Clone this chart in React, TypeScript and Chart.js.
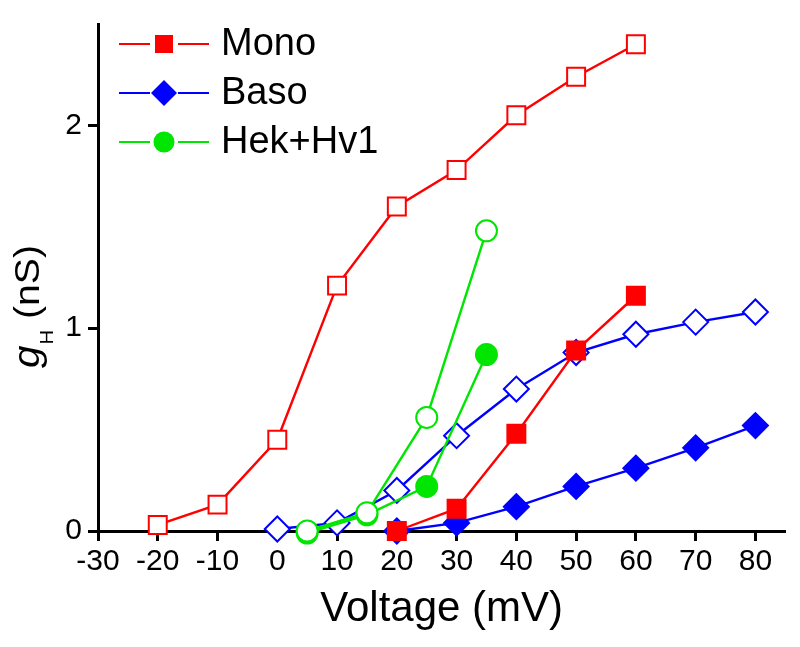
import React, { useEffect, useRef } from "react";
import { Chart, registerables } from "chart.js";

Chart.register(...registerables);

const FONT = "'Liberation Sans', Arial, sans-serif";
const NARROW = "'Liberation Sans Narrow', 'Arial Narrow', 'Liberation Sans', sans-serif";

const monoOpenX = [-20, -10, 0, 10, 20, 30, 40, 50, 60];
const monoOpenY = [0.03, 0.13, 0.45, 1.21, 1.6, 1.78, 2.05, 2.24, 2.4];
const monoFilledX = [20, 30, 40, 50, 60];
const monoFilledY = [0.0, 0.11, 0.48, 0.89, 1.16];
const basoOpenX = [0, 10, 20, 30, 40, 50, 60, 70, 80];
const basoOpenY = [0.01, 0.04, 0.2, 0.47, 0.7, 0.88, 0.97, 1.03, 1.08];
const basoFilledX = [20, 30, 40, 50, 60, 70, 80];
const basoFilledY = [0.0, 0.04, 0.12, 0.22, 0.31, 0.41, 0.52];
const hekOpenX = [5, 15, 25, 35];
const hekOpenY = [0.0, 0.09, 0.56, 1.48];
const hekFilledX = [5, 15, 25, 35];
const hekFilledY = [-0.01, 0.08, 0.22, 0.87];

const xTicks = [-30, -20, -10, 0, 10, 20, 30, 40, 50, 60, 70, 80];
const yTicks = [0, 1, 2];

const legendLabels = ["Mono", "Baso", "Hek+Hv1"];

const RED = "#ff0000";
const BLUE = "#0000ff";
const GREEN = "#00e600";

const pts = (xs: number[], ys: number[]) => xs.map((x, i) => ({ x, y: ys[i] }));

const legendPlugin = {
  id: "customLegend",
  afterDraw(chart: any) {
    const ctx = chart.ctx;
    const rows = [
      { label: legendLabels[0], color: RED, style: "rect", y: 44 },
      { label: legendLabels[1], color: BLUE, style: "diamond", y: 93 },
      { label: legendLabels[2], color: GREEN, style: "circle", y: 142 },
    ];
    ctx.save();
    for (const r of rows) {
      ctx.strokeStyle = r.color;
      ctx.lineWidth = 2.2;
      ctx.beginPath();
      ctx.moveTo(119, r.y);
      ctx.lineTo(150, r.y);
      ctx.moveTo(178, r.y);
      ctx.lineTo(209, r.y);
      ctx.stroke();
      ctx.fillStyle = r.color;
      const cx = 164;
      if (r.style === "rect") {
        ctx.fillRect(cx - 9, r.y - 9, 18, 18);
      } else if (r.style === "diamond") {
        ctx.beginPath();
        ctx.moveTo(cx, r.y - 13);
        ctx.lineTo(cx + 13, r.y);
        ctx.lineTo(cx, r.y + 13);
        ctx.lineTo(cx - 13, r.y);
        ctx.closePath();
        ctx.fill();
      } else {
        ctx.beginPath();
        ctx.arc(cx, r.y, 10.5, 0, Math.PI * 2);
        ctx.fill();
      }
      ctx.fillStyle = "#000";
      ctx.font = `38px ${FONT}`;
      ctx.textBaseline = "middle";
      ctx.textAlign = "left";
      ctx.fillText(r.label, 221, r.y + 1);
    }
    ctx.restore();
  },
};

const yTitlePlugin = {
  id: "yTitle",
  afterDraw(chart: any) {
    const ctx = chart.ctx;
    ctx.save();
    ctx.translate(39, 368);
    ctx.rotate(-Math.PI / 2);
    ctx.scale(1.12, 1);
    ctx.fillStyle = "#000";
    ctx.textBaseline = "alphabetic";
    ctx.textAlign = "left";
    let x = 0;
    ctx.font = `italic 36px ${FONT}`;
    ctx.fillText("g", x, 0);
    x += ctx.measureText("g").width + 1;
    ctx.font = `18px ${FONT}`;
    ctx.fillText("H", x, 14);
    x += ctx.measureText("H").width;
    ctx.font = `35px ${FONT}`;
    ctx.fillText(" (nS)", x, 0);
    ctx.restore();
  },
};

export default function App() {
  const ref = useRef<HTMLCanvasElement | null>(null);
  useEffect(() => {
    if (!ref.current) return;
    const common = { showLine: true, borderWidth: 2.4, clip: false as any, pointBorderWidth: 2 };
    const chart = new Chart(ref.current, {
      type: "scatter",
      data: {
        datasets: [
          {
            label: "Mono (open)", data: pts(monoOpenX, monoOpenY), ...common,
            borderColor: RED, backgroundColor: "#fff", pointBorderColor: RED, pointBackgroundColor: "#fff",
            pointStyle: "rect", pointRadius: 12.7,
          },
          {
            label: "Mono", data: pts(monoFilledX, monoFilledY), ...common,
            borderColor: RED, backgroundColor: RED, pointBorderColor: RED, pointBackgroundColor: RED,
            pointStyle: "rect", pointRadius: 12.7,
          },
          {
            label: "Hek+Hv1 (open)", data: pts(hekOpenX, hekOpenY), ...common,
            borderColor: GREEN, backgroundColor: "#fff", pointBorderColor: GREEN, pointBackgroundColor: "#fff",
            pointStyle: "circle", pointRadius: 10.5,
          },
          {
            label: "Hek+Hv1", data: pts(hekFilledX, hekFilledY), ...common,
            borderColor: GREEN, backgroundColor: GREEN, pointBorderColor: GREEN, pointBackgroundColor: GREEN,
            pointStyle: "circle", pointRadius: 10.5,
          },
          {
            label: "Baso (open)", data: pts(basoOpenX, basoOpenY), ...common,
            borderColor: BLUE, backgroundColor: "#fff", pointBorderColor: BLUE, pointBackgroundColor: "#fff",
            pointStyle: "rectRot", pointRadius: 12.5,
          },
          {
            label: "Baso", data: pts(basoFilledX, basoFilledY), ...common,
            borderColor: BLUE, backgroundColor: BLUE, pointBorderColor: BLUE, pointBackgroundColor: BLUE,
            pointStyle: "rectRot", pointRadius: 12.5,
          },
        ],
      },
      options: {
        responsive: false,
        animation: false,
        layout: { padding: { top: 18, right: 13, left: 0, bottom: 0 } },
        plugins: { legend: { display: false }, tooltip: { enabled: false } },
        scales: {
          x: {
            type: "linear",
            min: -30,
            max: 85,
            afterBuildTicks: (s: any) => { s.ticks = xTicks.map((v) => ({ value: v })); },
            afterFit: (s: any) => { s.height = 116; },
            grid: { display: true, drawOnChartArea: false, drawTicks: true, tickLength: 10, tickWidth: 3, tickColor: "#000" },
            border: { display: true, color: "#000", width: 3 },
            ticks: { font: { family: NARROW, size: 30 }, color: "#000", padding: 3, maxRotation: 0, autoSkip: false },
            title: { display: true, text: "Voltage (mV)", font: { family: FONT, size: 42 }, color: "#000", padding: { top: 0, bottom: 12 } },
          },
          y: {
            type: "linear",
            min: 0,
            max: 2.5,
            afterBuildTicks: (s: any) => { s.ticks = yTicks.map((v) => ({ value: v })); },
            afterFit: (s: any) => { s.width = 98; },
            grid: { display: true, drawOnChartArea: false, drawTicks: true, tickLength: 10, tickWidth: 3, tickColor: "#000" },
            border: { display: true, color: "#000", width: 3 },
            ticks: { font: { family: NARROW, size: 30 }, color: "#000", padding: 6, autoSkip: false },
          },
        },
      },
      plugins: [legendPlugin, yTitlePlugin],
    });
    return () => chart.destroy();
  }, []);
  return (
    <div style={{ position: "absolute", left: 0, top: 0, width: 800, height: 647, background: "#fff" }}>
      <canvas ref={ref} width={800} height={647} />
    </div>
  );
}
